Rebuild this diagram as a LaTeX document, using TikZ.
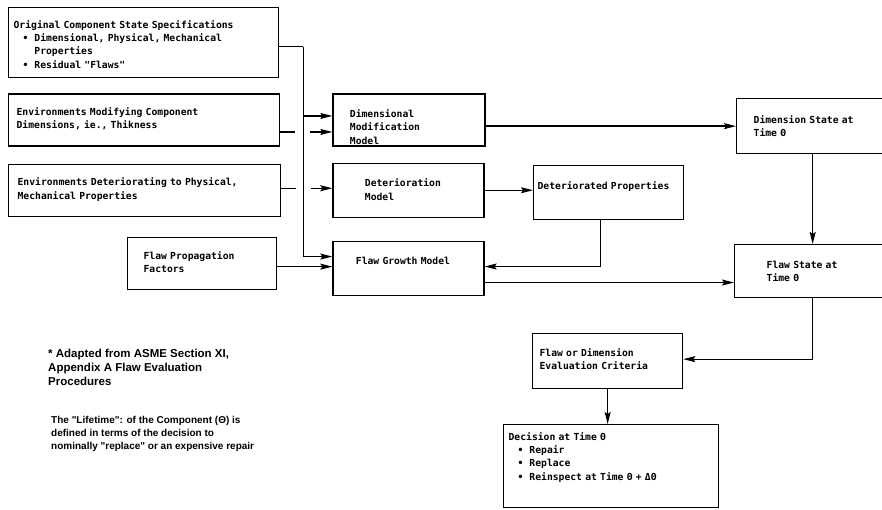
\documentclass[tikz,border=0pt]{standalone}
\usepackage{fontspec}
\newfontfamily\boxfont{DejaVu Sans Mono}
\newfontfamily\notefont{Liberation Sans}
\usetikzlibrary{positioning, arrows.meta}
\newcommand{\bul}{\hspace*{9pt}\textbullet\hspace*{6pt}}
\newcommand{\bulgap}{\hspace*{20.8pt}}

\begin{document}
\begin{tikzpicture}[
    x=1pt, y=-1pt,
    every node/.style={font=\boxfont\bfseries\fontsize{9.7}{13.4}\selectfont},
    box/.style={rectangle, draw, line width=1.3pt, align=left, anchor=north west, inner ysep=0pt},
    note/.style={font=\notefont\bfseries\fontsize{11.5}{14}\selectfont, align=left, anchor=north west, inner sep=0pt},
    line/.style={line width=1.3pt},
    arrow/.style={line, -{Stealth[length=12pt, width=6pt, inset=2pt]}}
]
\useasboundingbox (0,0) rectangle (882,510);
\clip (0,0) rectangle (882,510);

% Inputs
\node[box, text width=260pt, inner xsep=5pt, text height=20.5pt, text depth=49.5pt] (orig) at (8,7)
    {Original Component State Specifications\\
     \bul Dimensional, Physical, Mechanical\\
     \bulgap Properties\\
     \bul Residual "Flaws"};
\node[box, below=15pt of orig.south west, anchor=north west, text width=255pt, inner xsep=8pt, text height=21.5pt, text depth=30.5pt] (env1)
    {Environments Modifying Component\\ Dimensions, ie., Thikness};
\node[box, below=17pt of env1.south west, anchor=north west, text width=254pt, inner xsep=9pt, text height=21.5pt, text depth=30.5pt] (env2)
    {Environments Deteriorating to Physical,\\ Mechanical Properties};
\node[box, text width=117pt, inner xsep=16pt, text height=21.5pt, text depth=30.5pt] (flawprop) at (127,237)
    {Flaw Propagation\\ Factors};

% Models
\node[box, right=52pt of env1.north east, anchor=north west, text width=118pt, inner xsep=17pt, text height=23.5pt, text depth=28.5pt] (dimmod)
    {Dimensional\\ Modification\\ Model};
\node[box, below=16pt of dimmod.south west, anchor=north west, text width=87pt, inner xsep=32pt, text height=23.5pt, text depth=30.5pt] (detmodel)
    {Deterioration\\ Model};
\node[box, below=23pt of detmodel.south west, anchor=north west, text width=105pt, inner xsep=23pt, text height=22.5pt, text depth=31.5pt] (flawgrowth)
    {Flaw Growth Model};
\node[box, text width=142pt, inner xsep=4pt, text height=23.5pt, text depth=30.5pt] (detprops) at (533,165)
    {Deteriorated Properties};

% States and decision
\node[box, text width=118pt, inner xsep=17pt, text height=24.5pt, text depth=30.5pt] (dimstate) at (736,98)
    {Dimension State at\\ Time Θ};
\node[box, text width=92pt, inner xsep=32pt, text height=23.5pt, text depth=29.5pt] (flawstate) at (734,244)
    {Flaw State at\\ Time Θ};
\node[box, text width=136pt, inner xsep=7pt, text height=22.5pt, text depth=32.5pt] (criteria) at (532,333)
    {Flaw or Dimension\\ Evaluation Criteria};
\node[box, text width=205pt, inner xsep=5pt, text height=15.5pt, text depth=67.5pt] (decision) at (503,424)
    {Decision at Time Θ\\
     \bul Repair\\
     \bul Replace\\
     \bul Reinspect at Time Θ + ΔΘ};

% Notes
\node[note] (source) at (48,349)
    {* Adapted from ASME Section XI,\\ Appendix A Flaw Evaluation\\ Procedures};
\node[note, font=\notefont\bfseries\fontsize{10}{13}\selectfont] (lifetime) at (51,416)
    {The "Lifetime": of the Component (Θ) is\\ defined in terms of the decision to\\ nominally "replace" or an expensive repair};

% Connectors
\coordinate (bustop) at ([xshift=24pt, yshift=-4pt]orig.east);
\draw[line] ([yshift=-4pt]orig.east) -- (bustop);
\draw[arrow] (bustop) |- ([yshift=4pt]dimmod.west);
\draw[arrow] (bustop) |- ([yshift=12pt]flawgrowth.west);

\coordinate (env1out) at ([yshift=-12pt]env1.east);
\draw[line] (env1out) -- ++(15,0);
\draw[arrow] ([xshift=30pt]env1out) -- (env1out -| dimmod.west);

\coordinate (env2out) at ([yshift=2pt]env2.east);
\draw[line] (env2out) -- ++(15,0);
\draw[arrow] ([xshift=30pt]env2out) -- (env2out -| detmodel.west);

\coordinate (propout) at ([yshift=-3pt]flawprop.east);
\draw[arrow] (propout) -- (propout -| flawgrowth.west);

\draw[arrow] (dimmod.east |- dimstate.west) -- (dimstate.west);
\draw[arrow] (detmodel.east) -- (detmodel.east -| detprops.west);
\draw[arrow] ([xshift=-8pt]detprops.south) |- ([yshift=2pt]flawgrowth.east);

\coordinate (growthout) at ([yshift=-14pt]flawgrowth.east);
\draw[arrow] (growthout) -- (growthout -| flawstate.west);

\draw[arrow] (dimstate.south) -- (dimstate.south |- flawstate.north);
\draw[arrow] (flawstate.south) |- ([yshift=2pt]criteria.east);
\draw[arrow] (criteria.south) -- (criteria.south |- decision.north);

\end{tikzpicture}
\end{document}
